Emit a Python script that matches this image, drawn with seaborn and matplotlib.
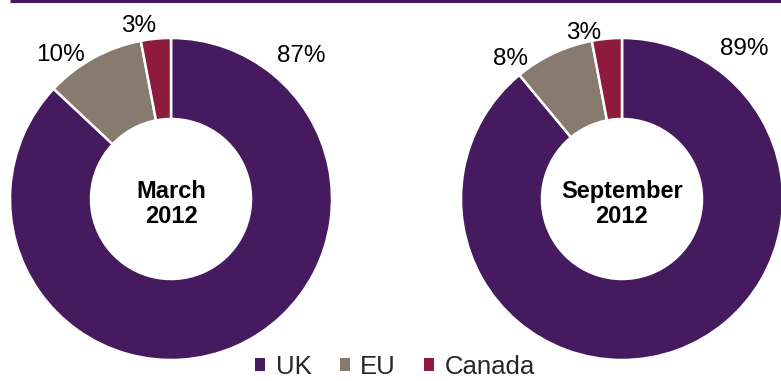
import matplotlib
matplotlib.use("Agg")
import matplotlib.pyplot as plt
from matplotlib.patches import Patch
import seaborn as sns

# Share of holdings by region
regions = ["UK", "EU", "Canada"]
march_2012 = [87, 10, 3]
september_2012 = [89, 8, 3]
panel_titles = ["March\n2012", "September\n2012"]
colors = ["#461A5E", "#877B70", "#8E1B3C"]

sns.set_theme(style="white")
plt.rcParams["font.family"] = ["Liberation Sans", "DejaVu Sans"]
palette = sns.color_palette(colors)

W, H = 781, 381
fig = plt.figure(figsize=(W / 100, H / 100), dpi=100)
ax = fig.add_axes([0, 0, 1, 1])


def py(y):
    """Convert a top-down pixel row into the axes' bottom-up coordinate."""
    return H - y


centers = [(171, py(199)), (622, py(199))]
R = 161
ring = 81
label_pos = [
    [(301, 62), (60, 61), (139, 32)],
    [(744, 55), (510, 65), (584, 39)],
]

for values, title, c, lp in zip([march_2012, september_2012], panel_titles, centers, label_pos):
    ax.pie(values, colors=palette, startangle=90, counterclock=False,
           center=c, radius=R,
           wedgeprops=dict(width=ring, edgecolor="white", linewidth=1.8))
    ax.text(c[0], c[1] - 5, title, ha="center", va="center",
            fontsize=17, fontweight="bold", linespacing=1.12, color="black")
    for v, (x, y) in zip(values, lp):
        ax.text(x, py(y), f"{v}%", ha="center", va="baseline",
                fontsize=17.5, color="black")

ax.set_xlim(0, W)
ax.set_ylim(0, H)
ax.axis("off")

# Rule along the top edge
ax.plot([10, W], [py(1), py(1)], color=colors[0], lw=2.2,
        solid_capstyle="butt", clip_on=False)

handles = [Patch(facecolor=col, edgecolor="none") for col in palette]
ax.legend(handles, regions, loc="center", bbox_to_anchor=(395 / W, 1 - 367 / H),
          ncol=3, frameon=False, fontsize=18.5, handlelength=0.4, handleheight=0.4,
          handletextpad=0.4, columnspacing=1.1, borderpad=0)

fig.savefig("out.png", dpi=100)
